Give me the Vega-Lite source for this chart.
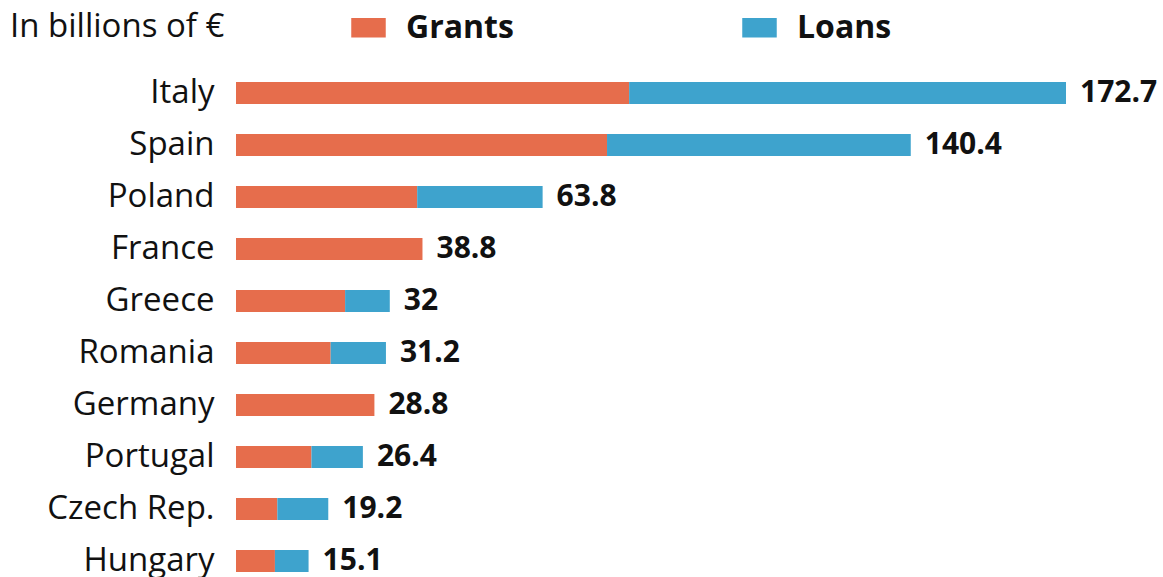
{
  "$schema": "https://vega.github.io/schema/vega-lite/v6.json",
  "width": 830,
  "height": 520,
  "autosize": {"type": "none"},
  "padding": {"left": 236, "top": 67, "right": 97, "bottom": 0},
  "background": "white",
  "config": {"view": {"stroke": null}, "font": "Open Sans"},
  "datasets": {
    "parts": [
      {"country": "Italy", "type": "Grants", "value": 81.8},
      {"country": "Italy", "type": "Loans", "value": 90.9},
      {"country": "Spain", "type": "Grants", "value": 77.2},
      {"country": "Spain", "type": "Loans", "value": 63.2},
      {"country": "Poland", "type": "Grants", "value": 37.7},
      {"country": "Poland", "type": "Loans", "value": 26.1},
      {"country": "France", "type": "Grants", "value": 38.8},
      {"country": "Greece", "type": "Grants", "value": 22.7},
      {"country": "Greece", "type": "Loans", "value": 9.3},
      {"country": "Romania", "type": "Grants", "value": 19.7},
      {"country": "Romania", "type": "Loans", "value": 11.5},
      {"country": "Germany", "type": "Grants", "value": 28.8},
      {"country": "Portugal", "type": "Grants", "value": 15.7},
      {"country": "Portugal", "type": "Loans", "value": 10.7},
      {"country": "Czech Rep.", "type": "Grants", "value": 8.6},
      {"country": "Czech Rep.", "type": "Loans", "value": 10.6},
      {"country": "Hungary", "type": "Grants", "value": 8.1},
      {"country": "Hungary", "type": "Loans", "value": 7.0}
    ],
    "totals": [
      {"country": "Italy", "total": 172.7},
      {"country": "Spain", "total": 140.4},
      {"country": "Poland", "total": 63.8},
      {"country": "France", "total": 38.8},
      {"country": "Greece", "total": 32},
      {"country": "Romania", "total": 31.2},
      {"country": "Germany", "total": 28.8},
      {"country": "Portugal", "total": 26.4},
      {"country": "Czech Rep.", "total": 19.2},
      {"country": "Hungary", "total": 15.1}
    ]
  },
  "layer": [
    {
      "data": {"name": "parts"},
      "mark": {"type": "bar"},
      "encoding": {
        "y": {
          "field": "country", "type": "nominal",
          "sort": ["Italy", "Spain", "Poland", "France", "Greece", "Romania", "Germany", "Portugal", "Czech Rep.", "Hungary"],
          "scale": {"paddingInner": 0.58, "paddingOuter": 0.29},
          "axis": {"title": null, "domain": false, "ticks": false, "labelPadding": 22, "labelFontSize": 33, "labelColor": "#111111", "labelFont": "Open Sans", "labelLimit": 300}
        },
        "x": {
          "field": "value", "type": "quantitative", "stack": "zero",
          "scale": {"domain": [0, 172.7], "nice": false, "zero": true},
          "axis": null
        },
        "color": {
          "field": "type", "type": "nominal",
          "scale": {"domain": ["Grants", "Loans"], "range": ["#E66D4C", "#3EA3CD"]},
          "legend": {
            "orient": "none", "legendX": -226, "legendY": -57, "direction": "horizontal",
            "title": "In billions of €", "titleOrient": "left", "titleFontSize": 33, "titleFontWeight": "normal",
            "titleColor": "#111111", "titlePadding": 126, "titleFont": "Open Sans", "titleLimit": 400,
            "labelFontSize": 32, "labelFontWeight": "bold", "labelColor": "#111111", "labelOffset": 20, "labelFont": "Open Sans",
            "symbolType": "M-1,-0.56L1,-0.56L1,0.56L-1,0.56Z", "symbolSize": 1190, "symbolStrokeWidth": 0, "symbolOpacity": 1,
            "columnPadding": 228, "labelLimit": 300
          }
        }
      }
    },
    {
      "data": {"name": "totals"},
      "mark": {"type": "text", "align": "left", "baseline": "middle", "dx": 14, "fontSize": 30, "fontWeight": "bold", "color": "#111111", "font": "Open Sans"},
      "encoding": {
        "y": {"field": "country", "type": "nominal", "sort": ["Italy", "Spain", "Poland", "France", "Greece", "Romania", "Germany", "Portugal", "Czech Rep.", "Hungary"]},
        "x": {"field": "total", "type": "quantitative"},
        "text": {"field": "total", "type": "quantitative", "format": "~f"}
      }
    }
  ]
}
